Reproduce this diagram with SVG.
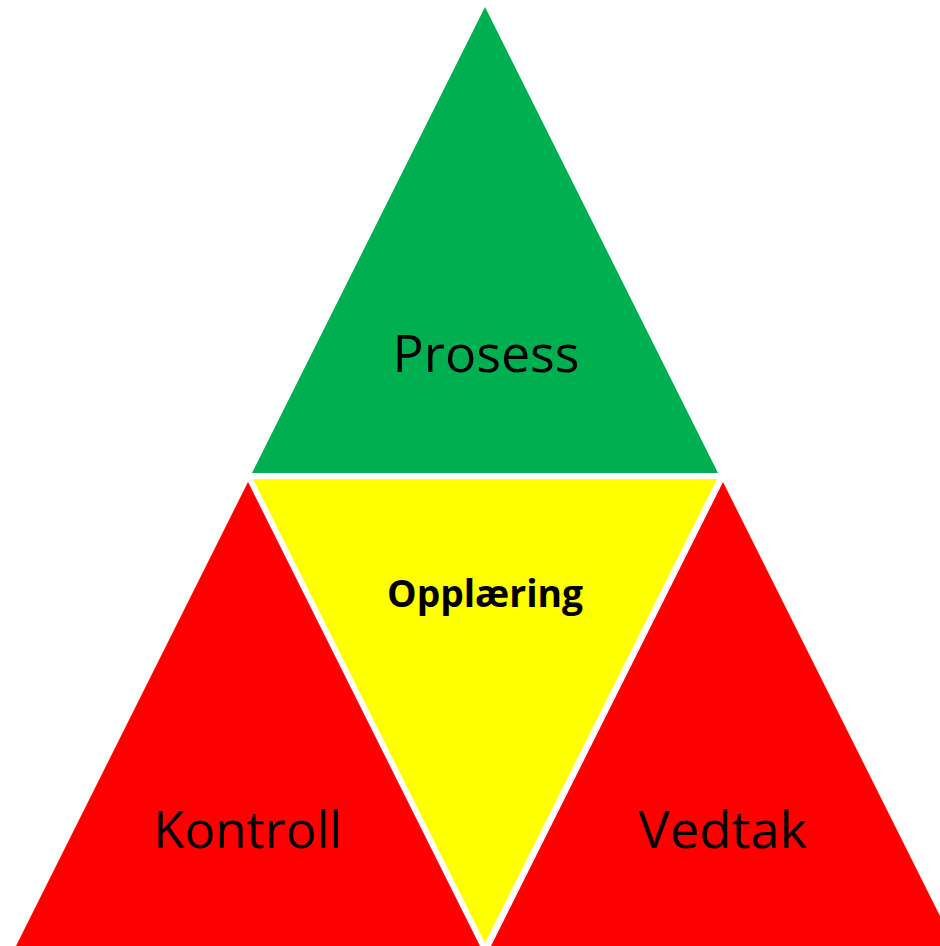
<svg xmlns="http://www.w3.org/2000/svg" width="940" height="946" viewBox="0 0 940 946">
<style>
.lbl{font-family:"Open Sans","Liberation Sans",sans-serif;font-size:52px;fill:#000;text-anchor:middle}
.b{font-weight:bold;font-size:37px}
</style>
<rect width="940" height="946" fill="#fff"/>
<g id="prosess">
<polygon points="485,7 718,473 252,473" fill="#00B050"/>
<text class="lbl" x="486" y="372" textLength="187" lengthAdjust="spacingAndGlyphs">Prosess</text>
</g>
<g id="opplaering">
<polygon points="253,479 717,479 485,943" fill="#FFFF00"/>
<text class="lbl b" x="485" y="607" textLength="196" lengthAdjust="spacingAndGlyphs">Opplæring</text>
</g>
<g id="kontroll">
<polygon points="248,482 480,946 16,946" fill="#FF0000"/>
<text class="lbl" x="248" y="848" textLength="189" lengthAdjust="spacingAndGlyphs">Kontroll</text>
</g>
<g id="vedtak">
<polygon points="723,482 955,946 491,946" fill="#FF0000"/>
<text class="lbl" x="723" y="848" textLength="169" lengthAdjust="spacingAndGlyphs">Vedtak</text>
</g>
<g id="connectors"></g>
</svg>
